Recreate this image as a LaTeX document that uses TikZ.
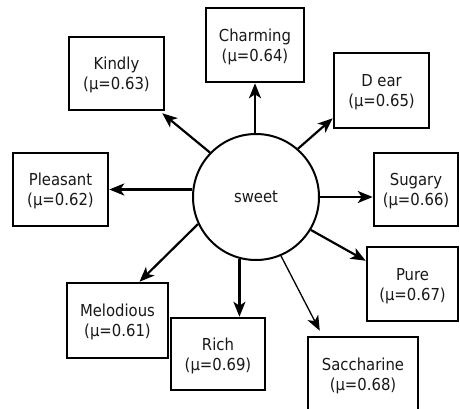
\documentclass[tikz,border=0pt]{standalone}
\usepackage{fontspec}
\setmainfont{DejaVu Sans Condensed}
\usetikzlibrary{arrows.meta}
\begin{document}
\begin{tikzpicture}[x=1pt,y=-1pt,
  lbl/.style={font=\fontsize{16.5}{20}\selectfont, text=black!90},
  box/.style={draw, line width=2.5pt, align=center, inner sep=0pt, text depth=-2pt, lbl},
  arr/.style={line width=2.2pt, -{Stealth[length=15pt,width=12pt,inset=4pt]}},
]
\fill[white] (0,0) rectangle (460,409);
\useasboundingbox (0,0) rectangle (460,409);
\node[draw, circle, line width=2pt, minimum size=126pt, inner sep=0pt, lbl] (c) at (256,197) {sweet};
\node[box, minimum width=95pt, minimum height=73pt] (kindly) at (116.5,73.5) {Kindly\\(μ=0.63)};
\node[box, minimum width=98pt, minimum height=74pt] (charming) at (255,45) {Charming\\(μ=0.64)};
\node[box, minimum width=95pt, minimum height=75pt] (dear) at (381.5,90.5) {D ear\\(μ=0.65)};
\node[box, minimum width=84pt, minimum height=73pt] (sugary) at (416,189.5) {Sugary\\(μ=0.66)};
\node[box, minimum width=95pt, minimum height=73pt] (pleasant) at (60.5,189.5) {Pleasant\\(μ=0.62)};
\node[box, minimum width=101pt, minimum height=75pt] (melodious) at (117.5,320.5) {Melodious\\(μ=0.61)};
\node[box, minimum width=94pt, minimum height=72pt] (rich) at (218,354) {Rich\\(μ=0.69)};
\node[box, minimum width=91pt, minimum height=74pt] (pure) at (412.5,284) {Pure\\(μ=0.67)};
\node[box, minimum width=110pt, minimum height=75pt] (sacch) at (363,374.5) {Saccharine\\(μ=0.68)};

\draw[arr] (c.136) -- ([xshift=-3pt,yshift=-2pt]kindly.south east);
\draw[arr] (c.north -| charming.south) -- (charming.south);
\draw[arr] (c.49) -- ([yshift=11pt]dear.south west);
\draw[arr] (c.east) -- (c.east -| sugary.west);
\draw[arr, line width=3pt] (pleasant.east -| c.west) -- (pleasant.east);
\draw[arr] (c.205) -- ([xshift=22pt]melodious.north);
\draw[arr] (c.255) -- (c.255 |- rich.north);
\draw[arr] (c.329) -- ([yshift=-15pt]pure.north west);
\draw[arr, line width=1.3pt] (c.293) -- ([xshift=13pt,yshift=5pt]sacch.north west);
\end{tikzpicture}
\end{document}
